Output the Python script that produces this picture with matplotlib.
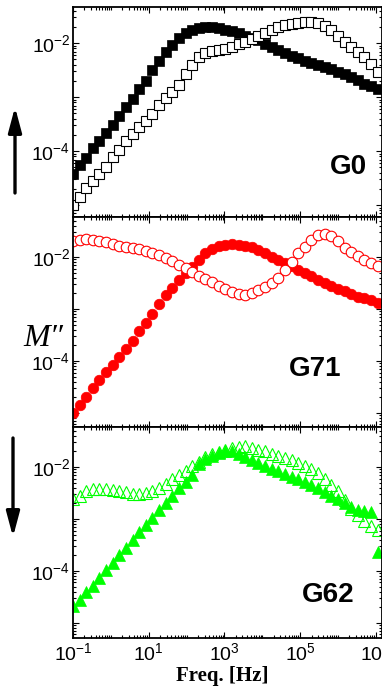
import numpy as np
import matplotlib
matplotlib.use("Agg")
import matplotlib.pyplot as plt
from matplotlib.ticker import LogLocator, NullFormatter
from matplotlib.patches import FancyArrowPatch

plt.rcParams['font.family'] = ['Liberation Sans', 'DejaVu Sans']
plt.rcParams['mathtext.default'] = 'regular'

# ----------------------------
# DATA (log10 values)
# ----------------------------
LOG_FREQ = [-1.0, -0.825, -0.65, -0.475, -0.3, -0.125, 0.05, 0.225, 0.4, 0.575,
            0.75, 0.925, 1.1, 1.275, 1.45, 1.625, 1.8, 1.975, 2.15, 2.325,
            2.5, 2.675, 2.85, 3.025, 3.2, 3.375, 3.55, 3.725, 3.9, 4.075,
            4.25, 4.425, 4.6, 4.775, 4.95, 5.125, 5.3, 5.475, 5.65, 5.825,
            6.0, 6.175, 6.35, 6.525, 6.7, 6.875, 7.05]

G0_FILLED = [-4.42, -4.25, -4.12, -3.95, -3.81, -3.67, -3.52, -3.35, -3.18, -3.03,
             -2.84, -2.70, -2.49, -2.33, -2.17, -2.03, -1.90, -1.82, -1.76, -1.72,
             -1.70, -1.70, -1.71, -1.75, -1.78, -1.82, -1.86, -1.90, -1.95, -2.01,
             -2.07, -2.13, -2.19, -2.24, -2.28, -2.33, -2.37, -2.41, -2.45, -2.48,
             -2.53, -2.58, -2.63, -2.69, -2.75, -2.80, -2.85]
G0_OPEN = [-5.00, -4.85, -4.68, -4.55, -4.42, -4.29, -4.10, -3.97, -3.82, -3.68,
           -3.56, -3.45, -3.31, -3.14, -3.02, -2.91, -2.78, -2.58, -2.40, -2.25,
           -2.19, -2.15, -2.12, -2.10, -2.07, -2.02, -1.98, -1.92, -1.86, -1.81,
           -1.76, -1.70, -1.67, -1.65, -1.63, -1.61, -1.61, -1.63, -1.69, -1.76,
           -1.86, -1.97, -2.07, -2.16, -2.26, -2.38, -2.53]

G71_FILLED = [-5.00, -4.85, -4.69, -4.52, -4.37, -4.22, -4.08, -3.93, -3.77, -3.61,
              -3.43, -3.27, -3.09, -2.91, -2.74, -2.60, -2.44, -2.31, -2.19, -2.05,
              -1.92, -1.84, -1.79, -1.76, -1.75, -1.76, -1.78, -1.81, -1.86, -1.92,
              -1.99, -2.05, -2.12, -2.18, -2.24, -2.30, -2.37, -2.44, -2.50, -2.56,
              -2.61, -2.66, -2.71, -2.76, -2.79, -2.82, -2.89]
G71_OPEN = [-1.69, -1.67, -1.66, -1.67, -1.69, -1.72, -1.75, -1.78, -1.80, -1.82,
            -1.85, -1.88, -1.92, -1.97, -2.02, -2.08, -2.15, -2.21, -2.28, -2.37,
            -2.43, -2.49, -2.56, -2.61, -2.67, -2.71, -2.73, -2.69, -2.63, -2.58,
            -2.50, -2.40, -2.25, -2.10, -1.93, -1.80, -1.67, -1.58, -1.55, -1.60,
            -1.70, -1.82, -1.90, -1.98, -2.05, -2.11, -2.17]

G62_FILLED = [-4.68, -4.55, -4.41, -4.28, -4.13, -3.99, -3.85, -3.70, -3.55, -3.40,
              -3.25, -3.11, -2.98, -2.83, -2.69, -2.56, -2.41, -2.28, -2.16, -1.95,
              -1.85, -1.79, -1.73, -1.70, -1.70, -1.74, -1.80, -1.87, -1.93, -1.98,
              -2.03, -2.08, -2.13, -2.19, -2.24, -2.29, -2.35, -2.41, -2.48, -2.55,
              -2.62, -2.70, -2.76, -2.82, -2.85, -2.87, -3.64]
G62_OPEN = [-2.62, -2.55, -2.47, -2.43, -2.42, -2.42, -2.44, -2.47, -2.49, -2.51,
            -2.51, -2.50, -2.47, -2.41, -2.32, -2.23, -2.15, -2.07, -1.98, -1.90,
            -1.81, -1.75, -1.71, -1.67, -1.64, -1.61, -1.60, -1.63, -1.67, -1.70,
            -1.74, -1.78, -1.82, -1.87, -1.93, -1.98, -2.03, -2.12, -2.23, -2.34,
            -2.47, -2.64, -2.80, -2.93, -3.04, -3.13, -3.22]

SAMPLES = ["G0", "G71", "G62"]
X_TICKS = [1e-1, 1e1, 1e3, 1e5, 1e7]
X_TICK_LABELS = [r'$10^{-1}$', r'$10^{1}$', r'$10^{3}$', r'$10^{5}$', r'$10^{7}$']
Y_TICKS = [1e-5, 1e-4, 1e-3, 1e-2, 1e-1]
Y_TICK_LABELS = ['', r'$10^{-4}$', '', r'$10^{-2}$', '']

# ----------------------------
# LAYOUT (pixel geometry of the 382x687 picture)
# ----------------------------
W, H = 382, 687
fig = plt.figure(figsize=(W / 100, H / 100), dpi=100)


def fpos(x, y):
    return x / W, 1 - y / H


# (top px, bottom px, ylim in log10, label position px)
panel_cfg = [
    (7, 217, (-5.22, -1.33), (348, 167)),
    (217, 427, (-5.27, -1.23), (315, 369)),
    (427, 638, (-5.29, -1.23), (328, 595)),
]
series = [
    (G0_FILLED, G0_OPEN, 's', 'black', 7.0, 'white'),
    (G71_FILLED, G71_OPEN, 'o', 'red', 7.6, 'white'),
    (G62_FILLED, G62_OPEN, '^', '#00ff00', 8.2, 'none'),
]

freq = 10 ** np.array(LOG_FREQ)
left, right = 73, 381.5

for i, (name, cfg, ser) in enumerate(zip(SAMPLES, panel_cfg, series)):
    top, bottom, ylim, lab = cfg
    filled, opened, marker, color, ms, face = ser
    ax = fig.add_axes([left / W, 1 - bottom / H, (right - left) / W, (bottom - top) / H])
    ax.set_xscale('log')
    ax.set_yscale('log')

    ax.plot(freq, 10 ** np.array(filled), ls='none', marker=marker, ms=ms,
            mfc=color, mec=color, mew=0.5)
    ax.plot(freq, 10 ** np.array(opened), ls='none', marker=marker, ms=ms,
            mfc=face, mec=color, mew=0.8)

    ax.set_xticks(X_TICKS)
    ax.set_yticks(Y_TICKS)
    ax.set_yticklabels(Y_TICK_LABELS)
    if i == 2:
        ax.set_xticklabels(X_TICK_LABELS)
    else:
        ax.set_xticklabels([])
    ax.xaxis.set_minor_locator(LogLocator(base=10, subs=np.arange(1, 10), numticks=100))
    ax.yaxis.set_minor_locator(LogLocator(base=10, subs=np.arange(2, 10), numticks=100))
    ax.xaxis.set_minor_formatter(NullFormatter())
    ax.yaxis.set_minor_formatter(NullFormatter())
    ax.set_xlim(1e-1, 10 ** 7.15)
    ax.set_ylim(10 ** ylim[0], 10 ** ylim[1])

    ax.tick_params(which='both', direction='in', top=True, right=True,
                   labelsize=14, width=0.8)
    ax.tick_params(which='major', length=4, pad=3)
    ax.tick_params(which='minor', length=2)
    ax.tick_params(axis='y', pad=2)
    for sp in ax.spines.values():
        sp.set_linewidth(1.3)

    fig.text(*fpos(*lab), name, fontsize=20, fontweight='bold',
             ha='center', va='center')

# axis labels
fig.text(*fpos(43, 338), 'M\u2033', fontsize=23, style='italic',
         family=['Liberation Serif', 'DejaVu Serif'], ha='center', va='center')
fig.text(*fpos(222, 676), 'Freq. [Hz]', fontsize=15, fontweight='bold',
         family=['Liberation Serif', 'DejaVu Serif'], ha='center', va='center')

# arrows at the left
for tail, tip in [((15, 193), (15, 107)), ((13, 438), (13, 537))]:
    arr = FancyArrowPatch(fpos(*tail), fpos(*tip), transform=fig.transFigure,
                          arrowstyle='-|>,head_length=1.5,head_width=0.4',
                          mutation_scale=10, lw=2.4, color='black',
                          shrinkA=0, shrinkB=0)
    fig.add_artist(arr)

fig.savefig('out.png', dpi=100)
